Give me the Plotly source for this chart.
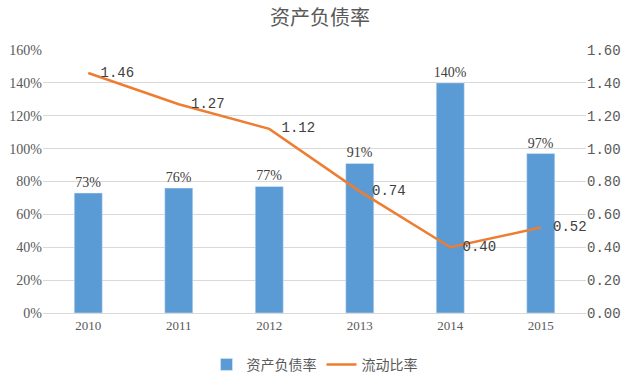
import plotly.graph_objects as go

years = ["2010", "2011", "2012", "2013", "2014", "2015"]
debt_ratio = [73, 76, 77, 91, 140, 97]
current_ratio = [1.46, 1.27, 1.12, 0.74, 0.40, 0.52]
left_ticks = [0, 20, 40, 60, 80, 100, 120, 140, 160]
right_ticks = [0, 0.2, 0.4, 0.6, 0.8, 1.0, 1.2, 1.4, 1.6]

FONT = "Noto Sans CJK SC"
SERIF = "Liberation Serif"
MONO = "Liberation Mono"
TXT = "#595959"

fig = go.Figure()
fig.add_trace(go.Bar(
    x=years, y=debt_ratio, name="资产负债率",
    marker_color="#5B9BD5", width=0.31,
    text=[f"{v}%" for v in debt_ratio], textposition="outside",
    constraintext="none",
    textfont=dict(size=14, color="#404040", family=SERIF),
    cliponaxis=False,
))
fig.add_trace(go.Scatter(
    x=years, y=current_ratio, name="流动比率", yaxis="y2",
    mode="lines+markers+text", line=dict(color="#ED7D31", width=2.5),
    marker=dict(size=18, color="rgba(0,0,0,0)"),
    text=[f"{v:.2f}" for v in current_ratio], textposition="middle right",
    textfont=dict(size=14, color="#404040", family=MONO),
    cliponaxis=False,
))

fig.update_layout(
    width=640, height=382,
    margin=dict(l=43, r=54, t=50, b=69, autoexpand=False),
    paper_bgcolor="white", plot_bgcolor="white",
    title=dict(text="资产负债率", x=0.5, xanchor="center", y=0.952, yanchor="middle",
               font=dict(size=20, color=TXT, family=FONT)),
    bargap=0.69,
    xaxis=dict(type="category", showgrid=False, showline=True, linecolor="#D9D9D9",
               tickfont=dict(size=13, color=TXT, family=SERIF), ticks=""),
    yaxis=dict(range=[0, 160], tickvals=left_ticks, ticktext=[f"{v}%" for v in left_ticks],
               showgrid=True, gridcolor="#D9D9D9", zeroline=False,
               tickfont=dict(size=14, color=TXT, family=SERIF)),
    yaxis2=dict(range=[0, 1.6], tickvals=right_ticks, ticktext=[f"{v:.2f}" for v in right_ticks],
                overlaying="y", side="right", showgrid=False, zeroline=False,
                tickfont=dict(size=14, color=TXT, family=MONO)),
    legend=dict(orientation="h", x=0.5, xanchor="center", y=0.045, yanchor="middle",
                yref="container",
                font=dict(size=14, color=TXT, family=FONT), traceorder="normal"),
)

fig.write_html("out.html")
